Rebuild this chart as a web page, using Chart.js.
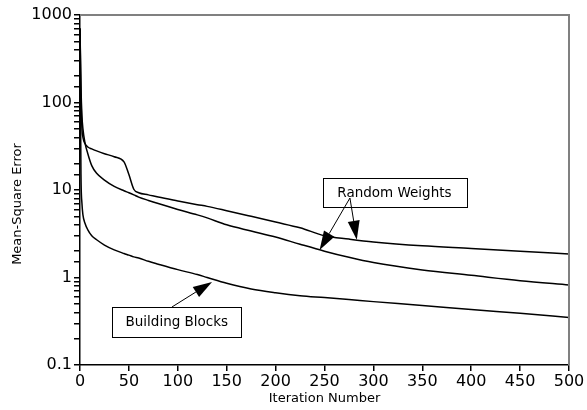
<!DOCTYPE html>
<html>
<head>
<meta charset="utf-8">
<script src="https://cdn.jsdelivr.net/npm/chart.js@4"></script>
<style>
html, body { margin: 0; padding: 0; background: #fff; }
#wrap { width: 587px; height: 410px; position: relative; }
</style>
</head>
<body>
<div id="wrap"><canvas id="chart-mse"></canvas></div>
<script>
// Mean-square error vs. iteration number (log scale)

const iterations = [0, 1, 2, 3, 5, 8, 12, 17, 25, 35, 45, 50, 55, 60, 70, 80, 100, 120, 130, 150, 175, 200, 225, 250, 275, 300, 350, 400, 450, 500];

// random weights, run with the plateau
const randomWeightsA = [700, 120, 50, 40, 34, 31, 29.5, 28, 26, 24, 21, 15, 10.2, 9.3, 8.8, 8.3, 7.5, 6.8, 6.5, 5.8, 5.0, 4.3, 3.7, 3.0, 2.75, 2.55, 2.3, 2.15, 2.0, 1.85];
// random weights, second run
const randomWeightsB = [700, 150, 70, 50, 35, 26, 19, 15.5, 13, 11, 9.8, 9.3, 8.8, 8.3, 7.6, 7.0, 6.0, 5.2, 4.8, 4.0, 3.4, 2.9, 2.4, 2.0, 1.7, 1.48, 1.22, 1.06, 0.92, 0.82];
// building blocks
const buildingBlocks = [700, 15, 7, 5.2, 4.2, 3.5, 3.0, 2.7, 2.35, 2.07, 1.88, 1.8, 1.72, 1.67, 1.53, 1.42, 1.23, 1.08, 1.0, 0.86, 0.74, 0.67, 0.62, 0.59, 0.56, 0.53, 0.48, 0.43, 0.39, 0.35];

const xTicks = [0, 50, 100, 150, 200, 250, 300, 350, 400, 450, 500];
const yTicks = [0.1, 1, 10, 100, 1000];

// callouts, anchored in data units: box [x0, x1, yTop, yBottom], arrows [fromX, fromY, toX, toY]
const callouts = [
    { text: 'Random Weights', box: [248, 395, 13.7, 6.4], arrows: [[276, 8.1, 283, 2.7], [276, 8.1, 245, 2.06]] },
    { text: 'Building Blocks', box: [33, 165, 0.46, 0.209], arrows: [[94, 0.46, 135, 0.89]] },
];

const FONT = '"DejaVu Sans", sans-serif';

function toPoints(values) {
    return values.map((v, i) => ({ x: iterations[i], y: v }));
}

function drawArrow(ctx, x1, y1, x2, y2) {
    const ang = Math.atan2(y2 - y1, x2 - x1);
    const len = 19, half = 6;
    const bx = x2 - len * Math.cos(ang), by = y2 - len * Math.sin(ang);
    ctx.beginPath();
    ctx.moveTo(x1, y1);
    ctx.lineTo(bx, by);
    ctx.stroke();
    ctx.beginPath();
    ctx.moveTo(x2, y2);
    ctx.lineTo(bx + half * Math.sin(ang), by - half * Math.cos(ang));
    ctx.lineTo(bx - half * Math.sin(ang), by + half * Math.cos(ang));
    ctx.closePath();
    ctx.fill();
}

const framePlugin = {
    id: 'frame',
    afterDraw(chart) {
        const { ctx, chartArea: a, scales: { x, y } } = chart;
        ctx.save();
        ctx.strokeStyle = '#808080';
        ctx.lineWidth = 2;
        ctx.beginPath();
        ctx.moveTo(a.left, a.top);
        ctx.lineTo(a.right, a.top);
        ctx.lineTo(a.right, a.bottom);
        ctx.stroke();

        // y axis title, sits a bit below the middle in the original
        ctx.fillStyle = '#000';
        ctx.font = '13px ' + FONT;
        ctx.textAlign = 'center';
        ctx.textBaseline = 'middle';
        ctx.save();
        ctx.translate(18, (a.top + a.bottom) / 2 + 14);
        ctx.rotate(-Math.PI / 2);
        ctx.fillText('Mean-Square Error', 0, 0);
        ctx.restore();

        ctx.strokeStyle = '#000';
        ctx.lineWidth = 1;
        ctx.font = '13.5px ' + FONT;
        callouts.forEach(c => {
            const x0 = x.getPixelForValue(c.box[0]);
            const x1 = x.getPixelForValue(c.box[1]);
            const y0 = y.getPixelForValue(c.box[2]);
            const y1 = y.getPixelForValue(c.box[3]);
            ctx.fillStyle = '#fff';
            ctx.fillRect(x0, y0, x1 - x0, y1 - y0);
            ctx.strokeRect(Math.round(x0) + 0.5, Math.round(y0) + 0.5, Math.round(x1 - x0), Math.round(y1 - y0));
            ctx.fillStyle = '#000';
            ctx.fillText(c.text, (x0 + x1) / 2, (y0 + y1) / 2 + 1);
            c.arrows.forEach(ar => {
                drawArrow(ctx,
                    x.getPixelForValue(ar[0]), y.getPixelForValue(ar[1]),
                    x.getPixelForValue(ar[2]), y.getPixelForValue(ar[3]));
            });
        });
        ctx.restore();
    },
};

const lineStyle = {
    borderColor: '#000',
    borderWidth: 1.5,
    pointRadius: 0,
    cubicInterpolationMode: 'monotone',
    fill: false,
};

new Chart(document.getElementById('chart-mse'), {
    type: 'line',
    data: {
        datasets: [
            { label: 'Random Weights A', data: toPoints(randomWeightsA), ...lineStyle },
            { label: 'Random Weights B', data: toPoints(randomWeightsB), ...lineStyle },
            { label: 'Building Blocks', data: toPoints(buildingBlocks), ...lineStyle },
        ],
    },
    options: {
        responsive: true,
        maintainAspectRatio: false,
        animation: false,
        layout: { padding: { top: 15, right: 18, left: 0, bottom: 0 } },
        plugins: {
            legend: { display: false },
            tooltip: { enabled: false },
        },
        scales: {
            x: {
                type: 'linear',
                min: 0,
                max: 500,
                afterBuildTicks: scale => { scale.ticks = xTicks.map(v => ({ value: v })); },
                afterFit: scale => { scale.height = 45; },
                ticks: { color: '#000', font: { family: FONT, size: 16 }, padding: 1, maxRotation: 0 },
                grid: { drawOnChartArea: false, color: '#000', tickLength: 6, lineWidth: 1.5 },
                border: { color: '#000', width: 1.5 },
                title: { display: true, text: 'Iteration Number', color: '#000', font: { family: FONT, size: 13 }, padding: { top: 0, bottom: 4 } },
            },
            y: {
                type: 'logarithmic',
                min: 0.1,
                max: 1000,
                afterFit: scale => { scale.width = 80; },
                ticks: {
                    color: '#000',
                    font: { family: FONT, size: 16 },
                    padding: 2,
                    autoSkip: false,
                    callback: v => yTicks.includes(Number(v.toPrecision(3))) ? String(Number(v.toPrecision(3))) : '',
                },
                grid: { drawOnChartArea: false, color: '#000', tickLength: 6, lineWidth: 1.5 },
                border: { color: '#000', width: 1.5 },
            },
        },
    },
    plugins: [framePlugin],
});
</script>
</body>
</html>
